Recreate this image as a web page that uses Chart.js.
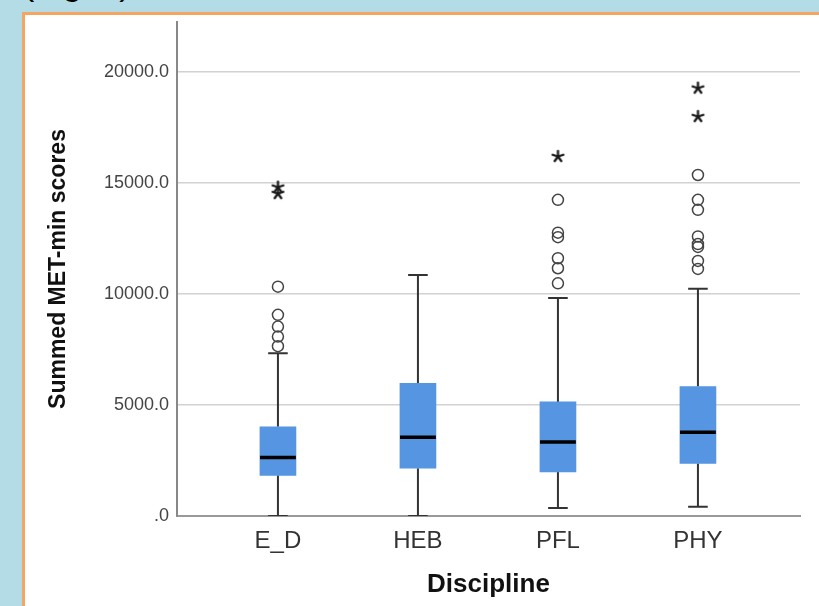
<!DOCTYPE html>
<html>
<head>
<meta charset="utf-8">
<script src="https://cdn.jsdelivr.net/npm/chart.js@4.4.1/dist/chart.umd.min.js"></script>
<style>
    html, body { margin: 0; padding: 0; }
    body { width: 819px; height: 606px; background: #b4dce7; position: relative; overflow: hidden; font-family: "Liberation Sans", Arial, sans-serif; }
    .fig-note { position: absolute; left: 23px; top: -36px; font-size: 34px; color: #000; white-space: nowrap; }
    .panel { position: absolute; left: 22px; top: 12px; width: 900px; height: 700px; background: #fff; border: 3px solid #f5a462; }
    #chart { position: absolute; left: 0; top: 0; }
</style>
</head>
<body>
<div class="fig-note">(Fig. 2)</div>
<div class="panel"></div>
<canvas id="chart" width="819" height="606"></canvas>
<script>
// box plot values
const categories = ['E_D', 'HEB', 'PFL', 'PHY'];
const whiskerLow = [0, 0, 360, 420];
const q1 = [1830, 2150, 1980, 2370];
const median = [2630, 3550, 3330, 3770];
const q3 = [4020, 5980, 5140, 5830];
const whiskerHigh = [7330, 10860, 9820, 10230];
const outlierCircles = [
    [7650, 8080, 8530, 9060, 10330],
    [],
    [10480, 11160, 11610, 12560, 12760, 14240],
    [11130, 11490, 12120, 12250, 12590, 13790, 14240, 15360]
];
const outlierStars = [
    [14520, 14810],
    [],
    [16190],
    [17990, 19270]
];
const yTickValues = [0, 5000, 10000, 15000, 20000];

const capHalf = 0.07;     // whisker cap half width (category units)
const medianHalf = 0.128; // median line half width

// build whisker segments, broken with null points
const whiskerPts = [];
const medianPts = [];
categories.forEach((c, i) => {
    whiskerPts.push({ x: i, y: whiskerLow[i] }, { x: i, y: q1[i] }, { x: i, y: null });
    whiskerPts.push({ x: i, y: q3[i] }, { x: i, y: whiskerHigh[i] }, { x: i, y: null });
    whiskerPts.push({ x: i - capHalf, y: whiskerLow[i] }, { x: i + capHalf, y: whiskerLow[i] }, { x: i, y: null });
    whiskerPts.push({ x: i - capHalf, y: whiskerHigh[i] }, { x: i + capHalf, y: whiskerHigh[i] }, { x: i, y: null });
    medianPts.push({ x: i - medianHalf, y: median[i] }, { x: i + medianHalf, y: median[i] }, { x: i, y: null });
});

const boxPts = categories.map((c, i) => ({ x: i, y: [q1[i], q3[i]] }));
const circlePts = [];
const starPts = [];
outlierCircles.forEach((list, i) => list.forEach(v => circlePts.push({ x: i, y: v })));
outlierStars.forEach((list, i) => list.forEach(v => starPts.push({ x: i, y: v })));

// small asterisk marker like the SPSS extreme symbol
function makeStar() {
    const c = document.createElement('canvas');
    c.width = 15; c.height = 15;
    const g = c.getContext('2d');
    g.strokeStyle = '#1a1a1a';
    g.lineWidth = 2.3;
    g.lineCap = 'round';
    for (let k = 0; k < 5; k++) {
        const a = -Math.PI / 2 + k * 2 * Math.PI / 5;
        g.beginPath();
        g.moveTo(7.5, 7.5);
        g.lineTo(7.5 + 5.6 * Math.cos(a), 7.5 + 5.6 * Math.sin(a));
        g.stroke();
    }
    return c;
}

const ctx = document.getElementById('chart').getContext('2d');
new Chart(ctx, {
    type: 'bar',
    data: {
        datasets: [
            {
                type: 'line',
                data: medianPts,
                borderColor: '#000',
                borderWidth: 3.5,
                pointRadius: 0,
                order: 0
            },
            {
                type: 'scatter',
                data: circlePts,
                pointStyle: 'circle',
                pointRadius: 5.5,
                borderColor: '#444',
                borderWidth: 1.5,
                backgroundColor: 'rgba(0,0,0,0)',
                order: 1
            },
            {
                type: 'scatter',
                data: starPts,
                pointStyle: makeStar(),
                order: 1
            },
            {
                type: 'bar',
                data: boxPts,
                backgroundColor: '#5595e2',
                borderWidth: 0,
                barThickness: 36,
                order: 2
            },
            {
                type: 'line',
                data: whiskerPts,
                borderColor: '#333',
                borderWidth: 2,
                pointRadius: 0,
                order: 3
            }
        ]
    },
    options: {
        responsive: false,
        animation: false,
        layout: { padding: { top: 22, right: 19, bottom: 0, left: 0 } },
        plugins: {
            legend: { display: false },
            tooltip: { enabled: false }
        },
        scales: {
            x: {
                type: 'linear',
                min: -0.721,
                max: 3.729,
                offset: false,
                afterBuildTicks: (scale) => {
                    scale.ticks = categories.map((c, i) => ({ value: i }));
                },
                afterFit: (scale) => { scale.height = 90; },
                ticks: {
                    callback: (v) => categories[v],
                    color: '#333',
                    font: { family: 'Liberation Sans', size: 24 },
                    padding: 11
                },
                grid: { display: false, drawTicks: false },
                border: { color: '#999', width: 2 },
                title: {
                    display: true,
                    text: 'Discipline',
                    color: '#111',
                    font: { family: 'Liberation Sans', size: 26, weight: 'bold' },
                    padding: { top: 0, bottom: 6 }
                }
            },
            y: {
                min: 0,
                max: 22250,
                afterBuildTicks: (scale) => {
                    scale.ticks = yTickValues.map(v => ({ value: v }));
                },
                afterFit: (scale) => { scale.width = 177; },
                ticks: {
                    callback: (v) => v === 0 ? '.0' : v.toFixed(1),
                    color: '#444',
                    font: { family: 'Liberation Sans', size: 18 },
                    padding: 8
                },
                grid: { color: '#d2d2d2', lineWidth: 1.5, drawTicks: false },
                border: { color: '#888', width: 2 },
                title: {
                    display: true,
                    text: 'Summed MET-min scores',
                    color: '#111',
                    font: { family: 'Liberation Sans', size: 23, weight: 'bold' },
                    padding: { top: 45, bottom: 0 }
                }
            }
        }
    }
});
</script>
</body>
</html>
